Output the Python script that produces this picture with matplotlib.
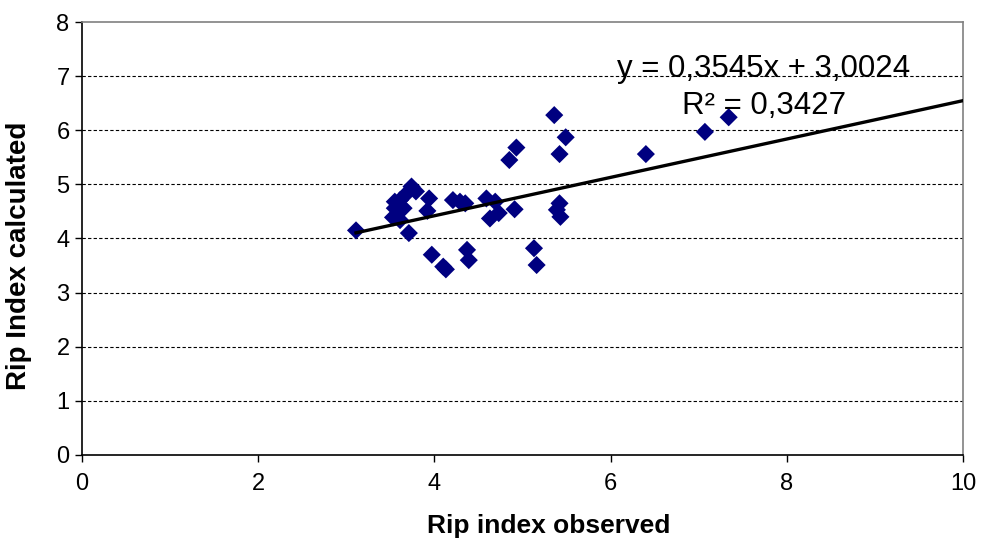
import matplotlib
matplotlib.use("Agg")
import matplotlib.pyplot as plt
import numpy as np

plt.rcParams['font.family'] = ['Liberation Sans', 'DejaVu Sans']

# Observed vs calculated rip index
rip_observed = [
    3.11, 3.74, 3.79, 3.69, 3.61, 3.55, 3.55, 3.65, 3.53, 3.61, 3.71,
    3.94, 3.92, 4.21, 4.29, 4.35, 4.59, 4.69, 4.63, 4.73, 4.91,
    3.97, 4.10, 4.13, 4.37, 4.39, 4.85, 4.93, 5.36, 5.49, 5.42,
    5.42, 5.39, 5.43, 5.13, 5.16, 6.40, 7.07, 7.34,
]
rip_calculated = [
    4.15, 4.96, 4.87, 4.84, 4.71, 4.68, 4.56, 4.56, 4.39, 4.34, 4.10,
    4.74, 4.51, 4.71, 4.68, 4.65, 4.74, 4.68, 4.37, 4.47, 4.54,
    3.70, 3.48, 3.43, 3.79, 3.60, 5.45, 5.68, 6.28, 5.87, 5.56,
    4.65, 4.53, 4.40, 3.82, 3.51, 5.56, 5.97, 6.24,
]

# Linear trend reported for the series
slope = 0.3545
intercept = 3.0024
r_squared = 0.3427

x_ticks = [0, 2, 4, 6, 8, 10]
y_ticks = [0, 1, 2, 3, 4, 5, 6, 7, 8]

fig = plt.figure(figsize=(9.81, 5.41), dpi=100)
ax = fig.add_axes([0.0836, 0.159, 0.8981, 0.8003])

ax.set_xlim(0, 10)
ax.set_ylim(0, 8)

for yv in y_ticks[1:-1]:
    ax.axhline(yv, color='black', lw=0.8, ls=(0, (3, 2)), zorder=1)

ax.scatter(rip_observed, rip_calculated, marker='D', s=85, color='#000080',
           edgecolors='none', zorder=3)

x_fit = np.array([min(rip_observed), 10])
ax.plot(x_fit, slope * x_fit + intercept, color='black', lw=2.4, zorder=4)

eq_text = f"y = {slope:.4f}x + {intercept:.4f}".replace('.', ',')
r2_text = f"R² = {r_squared:.4f}".replace('.', ',')
ax.text(7.735, 6.99, eq_text, fontsize=22.5, ha='center', va='baseline', zorder=5)
ax.text(7.74, 6.30, r2_text, fontsize=22.5, ha='center', va='baseline', zorder=5)

ax.set_xticks(x_ticks)
ax.set_yticks(y_ticks)
ax.tick_params(axis='both', direction='out', length=5, width=1,
               labelsize=17, color='black')
ax.tick_params(axis='x', pad=8)
ax.tick_params(axis='y', pad=4)

for side in ('left', 'bottom'):
    ax.spines[side].set_color('black')
    ax.spines[side].set_linewidth(1.2)
for side in ('top', 'right'):
    ax.spines[side].set_color('#808080')
    ax.spines[side].set_linewidth(1.2)

ax.set_xlabel('Rip index observed', fontsize=19, fontweight='bold')
ax.set_ylabel('Rip Index calculated', fontsize=20, fontweight='bold')
ax.xaxis.set_label_coords(0.53, -0.137)
ax.yaxis.set_label_coords(-0.057, 0.46)

fig.savefig('out.png', dpi=100)
